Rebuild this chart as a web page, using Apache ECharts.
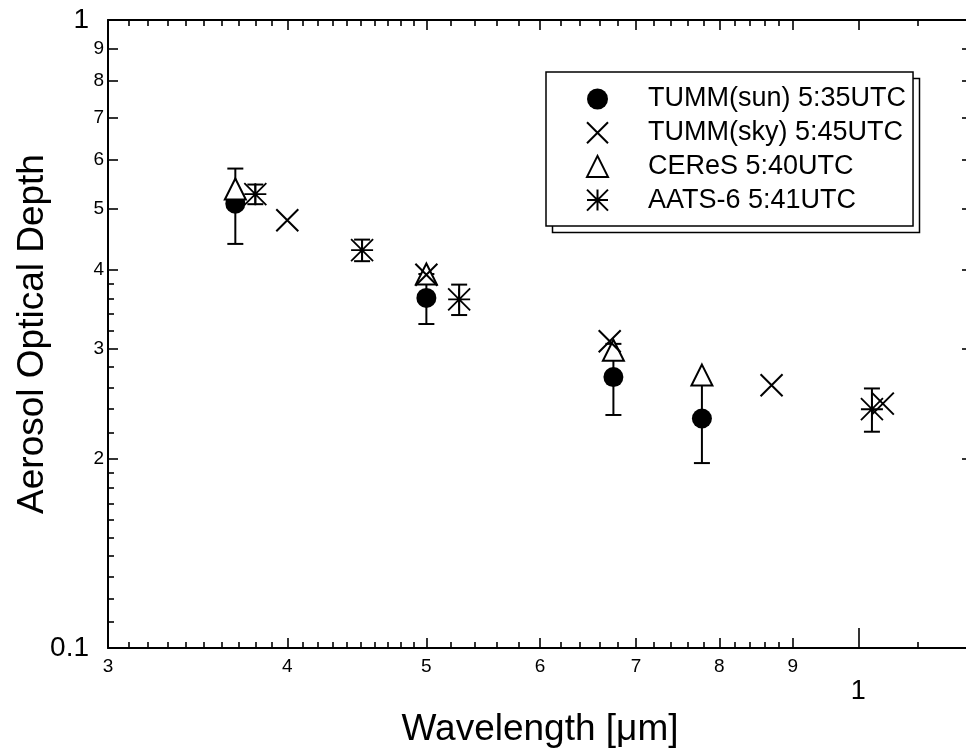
<!DOCTYPE html>
<html><head><meta charset="utf-8">
<script src="https://cdn.jsdelivr.net/npm/echarts@6/dist/echarts.min.js"></script>
<style>html,body{margin:0;padding:0;background:#fff}#c{width:966px;height:752px}</style>
</head><body><div id="c"></div><script>
// ---- data ----
const seriesNames = ['TUMM(sun) 5:35UTC', 'TUMM(sky) 5:45UTC', 'CEReS 5:40UTC', 'AATS-6 5:41UTC'];
const sunWl  = [0.368, 0.500, 0.675, 0.778];
const sunAod = [0.510, 0.361, 0.270, 0.232];
const sunErr = [0.070, 0.033, 0.035, 0.035];
const skyWl  = [0.400, 0.500, 0.671, 0.870, 1.040];
const skyAod = [0.480, 0.393, 0.308, 0.262, 0.245];
const ceresWl  = [0.368, 0.500, 0.675, 0.778];
const ceresAod = [0.538, 0.394, 0.298, 0.272];
const aatsWl  = [0.380, 0.451, 0.527, 1.022];
const aatsAod = [0.528, 0.430, 0.359, 0.240];
const aatsErr = [0.019, 0.017, 0.020, 0.019];

// ---- axis ticks / labels ----
const xLabelVals = [0.3, 0.4, 0.5, 0.6, 0.7, 0.8, 0.9];
const xMajorTicks = [0.4, 0.5, 0.6, 0.7, 0.8, 0.9];
const xMinorTicks = [0.31,0.32,0.33,0.34,0.35,0.36,0.37,0.38,0.39,
                     0.41,0.42,0.43,0.44,0.45,0.46,0.47,0.48,0.49,
                     0.52,0.54,0.56,0.58,0.62,0.64,0.66,0.68,
                     0.72,0.74,0.76,0.78,0.82,0.84,0.86,0.88,1.1];
const xBigVals = [1];
const yMajorTicks = [0.2, 0.3, 0.4, 0.5, 0.6, 0.7, 0.8, 0.9];
const yMinorTicks = [0.11,0.12,0.13,0.14,0.15,0.16,0.17,0.18,0.19,
                     0.22,0.24,0.26,0.28,0.32,0.34,0.36,0.38];
const yBigVals = [0.1, 1];
const xTitle = 'Wavelength [\u03bcm]';
const yTitle = 'Aerosol Optical Depth';

const FONT = '"Liberation Sans", Arial, Helvetica, sans-serif';
const X_MIN = 0.3, X_MAX = 1.2, Y_MIN = 0.1, Y_MAX = 1;
const K = '#000';

function xAx(pos, ticks, len, opts) {
  opts = opts || {};
  return Object.assign({
    type: 'log', logBase: 10, min: X_MIN, max: X_MAX, position: pos,
    axisLine: { show: !!opts.line, lineStyle: { color: K, width: 2 } },
    axisTick: { show: true, inside: true, length: len, customValues: ticks, lineStyle: { color: K, width: 1.6 } },
    axisLabel: opts.label ? opts.label : { show: false },
    splitLine: { show: false }, minorTick: { show: false }, minorSplitLine: { show: false }
  }, opts.extra || {});
}
function yAx(pos, ticks, len, opts) {
  opts = opts || {};
  return Object.assign({
    type: 'log', logBase: 10, min: Y_MIN, max: Y_MAX, position: pos,
    axisLine: { show: !!opts.line, lineStyle: { color: K, width: 2 } },
    axisTick: { show: ticks.length > 0, inside: true, length: len, customValues: ticks, lineStyle: { color: K, width: 1.6 } },
    axisLabel: opts.label ? opts.label : { show: false },
    splitLine: { show: false }, minorTick: { show: false }, minorSplitLine: { show: false }
  }, opts.extra || {});
}

const xAxes = [
  xAx('bottom', xMajorTicks, 10, {
    line: true,
    label: { show: true, customValues: xLabelVals, margin: 9, color: K, fontSize: 19, fontFamily: FONT,
             formatter: v => String(Math.round(v * 10)) },
    extra: { name: xTitle, nameLocation: 'middle', nameGap: 63,
             nameTextStyle: { color: K, fontSize: 37, fontFamily: FONT } }
  }),
  xAx('bottom', xMinorTicks, 6),
  xAx('bottom', xBigVals, 20, {
    label: { show: true, customValues: xBigVals, margin: 30, color: K, fontSize: 27, fontFamily: FONT,
             formatter: v => '1' } }),
  xAx('top', xMajorTicks.concat(xBigVals), 10, { line: true }),
  xAx('top', xMinorTicks, 6)
];
const yAxes = [
  yAx('left', yMajorTicks, 10, {
    line: true,
    label: { show: true, customValues: yMajorTicks, margin: 4, color: K, fontSize: 19, fontFamily: FONT,
             formatter: v => String(Math.round(v * 10)) },
    extra: { name: yTitle, nameLocation: 'middle', nameGap: 57,
             nameTextStyle: { color: K, fontSize: 37, fontFamily: FONT } }
  }),
  yAx('left', yMinorTicks, 6),
  yAx('left', [], 0, {
    label: { show: true, customValues: yBigVals, margin: 19, color: K, fontSize: 28, fontFamily: FONT,
             formatter: v => (v > 0.5 ? '1' : '0.1') } }),
  yAx('right', yMajorTicks, 10, { line: true }),
  yAx('right', yMinorTicks, 6)
];

function errRender(params, api) {
  const x = api.value(0), lo = api.value(2), hi = api.value(3);
  const pl = api.coord([x, lo]), ph = api.coord([x, hi]);
  const w = 8;
  const st = { stroke: K, lineWidth: 2 };
  return { type: 'group', children: [
    { type: 'line', shape: { x1: pl[0], y1: ph[1], x2: pl[0], y2: pl[1] }, style: st },
    { type: 'line', shape: { x1: pl[0] - w, y1: ph[1], x2: pl[0] + w, y2: ph[1] }, style: st },
    { type: 'line', shape: { x1: pl[0] - w, y1: pl[1], x2: pl[0] + w, y2: pl[1] }, style: st }
  ]};
}
const pair = (xs, ys) => xs.map((x, i) => [x, ys[i]]);
const errData = (xs, ys, es) => xs.map((x, i) => [x, ys[i], ys[i] - es[i], ys[i] + es[i]]);

const X_PATH = 'path://M0,0L20,20M20,0L0,20';
const AST_PATH = 'path://M10,0L10,20M0,10L20,10M0,0L20,20M20,0L0,20';

const option = {
  backgroundColor: '#fff',
  animation: false,
  grid: { left: 108, top: 20, right: -6, bottom: 104, containLabel: false, outerBoundsMode: 'none' },
  xAxis: xAxes,
  yAxis: yAxes,
  legend: {
    data: seriesNames,
    orient: 'vertical', left: 546, top: 72,
    padding: [13.5, 7, 12.4, 40],
    itemWidth: 21, itemHeight: 21, itemGap: 6.7,
    backgroundColor: '#fff', borderColor: K, borderWidth: 1.5,
    textStyle: { color: K, fontSize: 27, fontFamily: FONT, lineHeight: 27, padding: [0, 0, 0, 35] },
    selectedMode: false, z: 10
  },
  graphic: [
    { type: 'rect', left: 550, top: 76, z: 1, silent: true,
      shape: { width: 367, height: 154 }, style: { fill: 'none', stroke: K, lineWidth: 1.5 } }
  ],
  series: [
    { type: 'custom', name: 'sunErr', renderItem: errRender, data: errData(sunWl, sunAod, sunErr),
      encode: { x: 0, y: 1 }, z: 2, silent: true },
    { type: 'scatter', name: seriesNames[0], data: pair(sunWl, sunAod), symbol: 'circle', symbolSize: 20,
      itemStyle: { color: K, opacity: 1 }, z: 3 },
    { type: 'scatter', name: seriesNames[2], data: pair(ceresWl, ceresAod), symbol: 'triangle', symbolSize: 21,
      itemStyle: { color: '#fff', borderColor: K, borderWidth: 2, opacity: 1 }, z: 4 },
    { type: 'scatter', name: seriesNames[1], data: pair(skyWl, skyAod), symbol: X_PATH, symbolSize: 22,
      itemStyle: { color: 'rgba(0,0,0,0)', borderColor: K, borderWidth: 2, opacity: 1 }, z: 5 },
    { type: 'custom', name: 'aatsErr', renderItem: errRender, data: errData(aatsWl, aatsAod, aatsErr),
      encode: { x: 0, y: 1 }, z: 6, silent: true },
    { type: 'scatter', name: seriesNames[3], data: pair(aatsWl, aatsAod), symbol: AST_PATH, symbolSize: 22,
      itemStyle: { color: 'rgba(0,0,0,0)', borderColor: K, borderWidth: 1.8, opacity: 1 }, z: 7 }
  ]
};
const chart = echarts.init(document.getElementById('c'), null, { renderer: 'canvas' });
chart.setOption(option);
</script></body></html>
